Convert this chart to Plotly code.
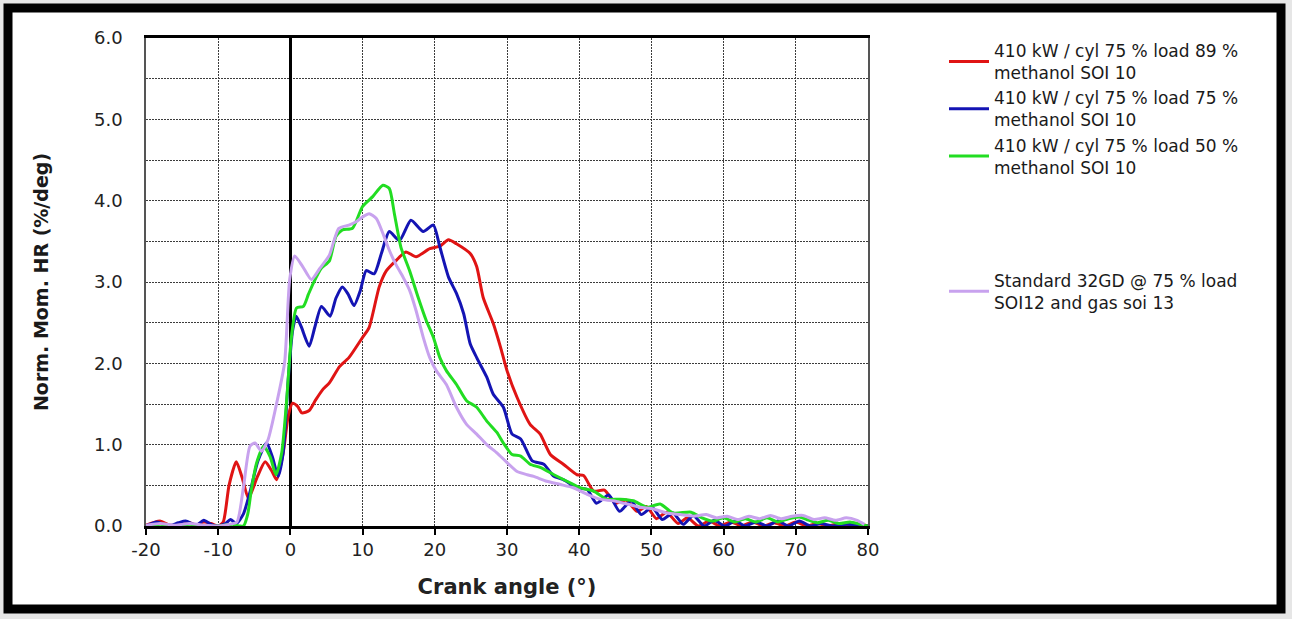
import plotly.graph_objects as go

# ---------------- data ----------------
red_x = [-20, -19, -18, -17, -16, -15, -14, -13, -12, -11, -10, -9.3, -8.5, -7.5, -6.7, -5.8, -4.6, -3.5,
         -2.6, -1.9, -1.0, -0.3, 0.3, 1.0, 1.6, 2.6, 3.5, 4.5, 5.4, 6.8, 8.1, 10.0, 10.9, 12.3, 13.3, 14.7,
         16.0, 17.4, 19.3, 20.7, 21.9, 23.0, 24.9, 25.8, 26.7, 28.1, 29.1, 30.0, 31.4, 33.2, 34.6, 36.0,
         37.8, 39.7, 40.6, 42.0, 43.5, 45.0, 46.5, 48.0, 49.3, 50.7, 52.1, 53.7, 55.0, 56.5, 58, 59.5, 61,
         62.5, 64, 65.5, 67, 68.5, 70, 71.5, 73, 74.5, 76, 77.5, 79, 80]
red_y = [0.01, 0.04, 0.06, 0.02, 0.0, 0.02, 0.04, 0.01, 0.05, 0.03, 0.0, 0.05, 0.5, 0.79, 0.6, 0.34, 0.6, 0.79,
         0.68, 0.57, 0.9, 1.35, 1.51, 1.47, 1.39, 1.42, 1.55, 1.68, 1.76, 1.96, 2.07, 2.32, 2.44, 2.94, 3.14, 3.27,
         3.37, 3.31, 3.41, 3.44, 3.52, 3.47, 3.35, 3.19, 2.81, 2.49, 2.20, 1.91, 1.58, 1.25, 1.13, 0.88,
         0.76, 0.63, 0.62, 0.43, 0.44, 0.28, 0.32, 0.18, 0.24, 0.09, 0.17, 0.03, 0.10, 0.0, 0.06, 0.0, 0.05,
         0.0, 0.05, 0.0, 0.04, 0.0, 0.05, 0.0, 0.03, 0.0, 0.03, 0.0, 0.02, 0.0]

blue_x = [-20, -18.5, -17, -15.5, -14.5, -13, -12, -11, -10, -9, -8.3, -7.5, -6.5, -5.5, -4.5, -3.3, -2.5,
          -1.7, -1.0, -0.3, 0.3, 0.8, 1.5, 2.6, 3.4, 4.3, 5.5, 6.3, 7.2, 8.0, 8.8, 9.7, 10.5, 11.6, 12.6,
          13.7, 15.1, 16.7, 18.4, 19.8, 20.7, 21.9, 23.0, 24.0, 24.9, 25.8, 27.2, 28.1, 29.5, 30.7, 31.9,
          33.5, 35.1, 36.5, 37.8, 39.7, 41.1, 42.4, 44.1, 45.6, 47.2, 48.6, 50.1, 51.5, 53.0, 54.4, 55.8,
          57.3, 58.7, 60.2, 61.6, 63, 64.5, 66, 67.5, 69, 70.5, 72, 73.5, 75, 77, 80]
blue_y = [0.0, 0.05, 0.0, 0.04, 0.06, 0.01, 0.07, 0.02, 0.0, 0.03, 0.08, 0.03, 0.15, 0.45, 0.8, 1.02, 0.85,
          0.61, 0.9, 1.8, 2.4, 2.58, 2.45, 2.21, 2.45, 2.70, 2.58, 2.8, 2.94, 2.85, 2.71, 2.9, 3.14, 3.10, 3.35,
          3.62, 3.51, 3.76, 3.62, 3.70, 3.43, 3.06, 2.86, 2.61, 2.24, 2.07, 1.83, 1.62, 1.46, 1.13, 1.07,
          0.80, 0.76, 0.61, 0.57, 0.47, 0.45, 0.28, 0.38, 0.18, 0.31, 0.14, 0.23, 0.08, 0.16, 0.02, 0.13,
          0.0, 0.07, 0.0, 0.06, 0.0, 0.05, 0.0, 0.06, 0.0, 0.06, 0.0, 0.03, 0.0, 0.02, 0.0]

green_x = [-20, -18, -16, -14, -12, -10, -8, -7, -6.5, -5.9, -5.4, -4.7, -3.7, -2.8, -2.0, -1.2, -0.55,
           0.15, 0.85, 1.8, 2.5, 3.2, 4.3, 5.4, 6.3, 7.2, 8.6, 10.0, 11.4, 12.8, 13.7, 14.4, 15.3, 16.5,
           17.7, 18.8, 19.8, 20.7, 21.6, 23.0, 24.4, 25.8, 27.2, 28.6, 29.5, 30.7, 31.9, 33.2, 34.6, 36.5,
           38.3, 40.1, 42.0, 43.8, 45.7, 47.5, 49.4, 51.2, 53.0, 55.5, 57, 58.5, 60, 61.5, 63, 64.5, 66,
           67.5, 69, 70.5, 71.5, 73, 74.5, 76, 77.5, 79, 80]
green_y = [0.0, 0.02, 0.0, 0.02, 0.0, 0.0, 0.02, 0.0, 0.0, 0.15, 0.45, 0.77, 0.98, 0.85, 0.63, 0.9, 1.51,
           2.33, 2.68, 2.70, 2.85, 2.99, 3.17, 3.26, 3.56, 3.64, 3.66, 3.93, 4.05, 4.19, 4.15, 3.84, 3.43, 3.14,
           2.81, 2.53, 2.32, 2.07, 1.91, 1.74, 1.54, 1.46, 1.29, 1.15, 1.02, 0.88, 0.86, 0.76, 0.72, 0.63,
           0.55, 0.47, 0.43, 0.33, 0.33, 0.31, 0.23, 0.27, 0.16, 0.17, 0.10, 0.06, 0.10, 0.05, 0.09, 0.05, 0.10,
           0.05, 0.09, 0.11, 0.08, 0.04, 0.07, 0.03, 0.05, 0.02, 0.0]

purple_x = [-20, -18, -16, -14, -12, -10, -8.5, -7.4, -6.5, -5.6, -4.9, -4.0, -3.1, -1.9, -0.8, -0.1, 0.6,
            1.7, 2.9, 4.1, 5.4, 6.7, 8.1, 9.1, 10.0, 10.9, 11.9, 12.8, 13.7, 14.65, 15.6, 16.5, 17.4, 18.4,
            19.3, 20.2, 21.6, 23.0, 24.4, 25.8, 27.2, 28.6, 30.0, 31.4, 32.8, 33.7, 35.5, 37.4, 39.2, 41.1,
            42.9, 44.7, 46.6, 48.4, 50.3, 52.1, 54.0, 55.8, 57.6, 59, 60.5, 62, 63.5, 65, 66.5, 68, 69.5, 71,
            72.5, 74, 75.5, 77, 78.5, 79.5]
purple_y = [0.01, 0.03, 0.01, 0.03, 0.01, 0.0, 0.02, 0.05, 0.48, 0.98, 1.02, 0.92, 1.06, 1.51, 2.01, 3.03, 3.32,
            3.19, 3.03, 3.17, 3.33, 3.66, 3.70, 3.74, 3.80, 3.84, 3.78, 3.60, 3.39, 3.21, 3.06, 2.90, 2.65, 2.32,
            2.07, 1.91, 1.74, 1.46, 1.25, 1.13, 1.00, 0.90, 0.78, 0.67, 0.63, 0.61, 0.55, 0.51, 0.47, 0.39,
            0.33, 0.31, 0.27, 0.23, 0.21, 0.16, 0.14, 0.12, 0.14, 0.10, 0.12, 0.08, 0.12, 0.09, 0.13, 0.09,
            0.12, 0.13, 0.08, 0.10, 0.07, 0.10, 0.07, 0.02]

series_names = [
    "410 kW / cyl 75 % load 89 %<br>methanol SOI 10",
    "410 kW / cyl 75 % load 75 %<br>methanol SOI 10",
    "410 kW / cyl 75 % load 50 %<br>methanol SOI 10",
    "Standard 32GD @ 75 % load<br>SOI12 and gas soi 13",
]
series_colors = ["#e01414", "#1414b4", "#22dd22", "#c8a2ee"]

x_tickvals = [-20, -10, 0, 10, 20, 30, 40, 50, 60, 70, 80]
x_ticktext = ["-20", "-10", "0", "10", "20", "30", "40", "50", "60", "70", "80"]
y_tickvals = [0, 1, 2, 3, 4, 5, 6]
y_ticktext = ["0.0", "1.0", "2.0", "3.0", "4.0", "5.0", "6.0"]

x_title = "Crank angle (°)"
y_title = "Norm. Mom. HR (%/deg)"

# ---------------- figure ----------------
W, H = 1292, 619
L, R, T, B = 146, 424, 38, 93
pw, ph = W - L - R, H - T - B

def px_x(p):
    return (p - L) / pw

def px_y(p):
    return (H - B - p) / ph

fig = go.Figure()
data = [(red_x, red_y), (blue_x, blue_y), (green_x, green_y), (purple_x, purple_y)]
groups = ["a", "a", "a", "b"]
for (xs, ys), name, col, g in zip(data, series_names, series_colors, groups):
    fig.add_trace(go.Scatter(x=xs, y=ys, mode="lines", name=name, legendgroup=g,
                             line=dict(color=col, width=3, shape="spline", smoothing=0.6)))

grid = dict(gridcolor="#3c3c3c", griddash="2px,1px", gridwidth=1)

fig.update_layout(
    width=W, height=H,
    margin=dict(l=L, r=R, t=T, b=B, autoexpand=False),
    paper_bgcolor="#e6e6e6",
    plot_bgcolor="white",
    font=dict(family="DejaVu Sans, Arial", size=18, color="#222222"),
    showlegend=True,
    legend=dict(x=px_x(944), y=px_y(33), xanchor="left", yanchor="top",
                bgcolor="rgba(0,0,0,0)", traceorder="grouped", tracegroupgap=88,
                font=dict(family="DejaVu Sans, Arial", size=17, color="#1a1a1a"),
                itemwidth=40),
    xaxis=dict(range=[-20, 80], tickvals=x_tickvals, ticktext=x_ticktext, showgrid=True, **grid,
               zeroline=True, zerolinecolor="black", zerolinewidth=3,
               showline=True, linecolor="black", linewidth=2.5, mirror=True,
               ticks="outside", ticklen=6, tickwidth=2, tickcolor="black",
               title=dict(text="<b>" + x_title + "</b>", font=dict(size=21, color="#222222"), standoff=20)),
    yaxis=dict(range=[0, 6], tickvals=y_tickvals, ticktext=y_ticktext, showgrid=True, **grid,
               minor=dict(dtick=0.5, showgrid=True, **grid),
               zeroline=False,
               showline=True, linecolor="#555555", linewidth=1.5, mirror=True,
               ticks="outside", ticklen=18, tickcolor="rgba(0,0,0,0)",
               title=dict(text="<b>" + y_title + "</b>", font=dict(size=19, color="#1a1a1a"), standoff=40)),
    yaxis2=dict(range=[0, 6], overlaying="y", anchor="free", position=px_x(290.7),
                tickvals=y_tickvals, ticks="outside", ticklen=6, tickwidth=2, tickcolor="black",
                showticklabels=False, showgrid=False, zeroline=False, showline=False),
    shapes=[dict(type="rect", xref="paper", yref="paper", layer="below",
                 x0=px_x(8), x1=px_x(1281), y0=px_y(609), y1=px_y(8),
                 line=dict(color="black", width=9), fillcolor="white")],
)

fig.write_html("out.html")
